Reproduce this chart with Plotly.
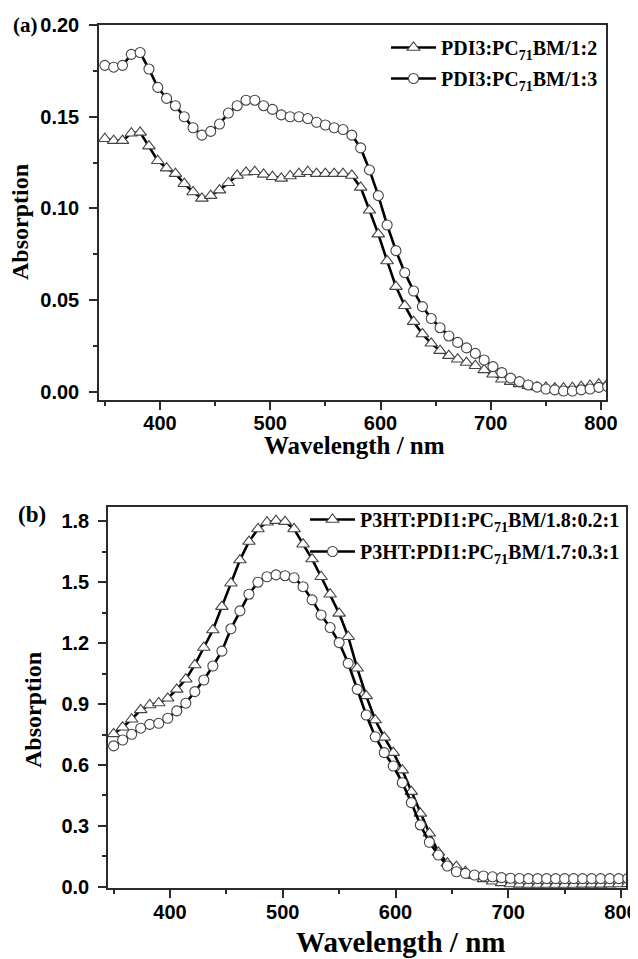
import plotly.graph_objects as go

# ---------------- data ----------------
wavelength = list(range(350, 807, 8))  # nm, 58 points

pdi3_12 = [0.138, 0.137, 0.137, 0.141, 0.1415, 0.134, 0.126, 0.122, 0.119, 0.1135,
           0.109, 0.1055, 0.107, 0.110, 0.114, 0.118, 0.1197, 0.120, 0.1186, 0.1173,
           0.1164, 0.1177, 0.119, 0.120, 0.119, 0.119, 0.119, 0.119, 0.118, 0.1115,
           0.099, 0.086, 0.0714, 0.0574, 0.047, 0.0383, 0.0316, 0.0265, 0.0225, 0.0198,
           0.0178, 0.016, 0.0143, 0.012, 0.0096, 0.0069, 0.0056, 0.0044, 0.0034, 0.0026,
           0.0024, 0.0020, 0.0020, 0.0023, 0.0029, 0.0034, 0.0042, 0.0044]

pdi3_13 = [0.178, 0.177, 0.178, 0.184, 0.185, 0.176, 0.166, 0.160, 0.156, 0.150,
           0.144, 0.140, 0.142, 0.146, 0.152, 0.156, 0.159, 0.159, 0.156, 0.154,
           0.151, 0.150, 0.150, 0.149, 0.147, 0.1455, 0.144, 0.143, 0.140, 0.133,
           0.121, 0.107, 0.091, 0.077, 0.065, 0.055, 0.0465, 0.040, 0.035, 0.0305,
           0.027, 0.024, 0.021, 0.0174, 0.0138, 0.0105, 0.0075, 0.0056, 0.0038, 0.0026,
           0.0016, 0.0011, 0.0005, 0.0005, 0.0011, 0.0016, 0.0025, 0.0029]

p3ht_18 = [0.753, 0.786, 0.825, 0.871, 0.895, 0.905, 0.928, 0.972, 1.022, 1.092,
           1.178, 1.264, 1.379, 1.494, 1.608, 1.699, 1.761, 1.794, 1.802, 1.797,
           1.761, 1.686, 1.613, 1.526, 1.440, 1.346, 1.231, 1.076, 0.940, 0.821,
           0.736, 0.661, 0.575, 0.469, 0.362, 0.264, 0.170, 0.117, 0.100, 0.075,
           0.055, 0.040, 0.028, 0.020, 0.015, 0.013, 0.012, 0.012, 0.012, 0.012,
           0.012, 0.012, 0.013, 0.013, 0.013, 0.014, 0.015, 0.016]

p3ht_17 = [0.694, 0.723, 0.751, 0.781, 0.800, 0.805, 0.830, 0.866, 0.904, 0.961,
           1.018, 1.087, 1.160, 1.270, 1.358, 1.440, 1.499, 1.526, 1.535, 1.531,
           1.521, 1.477, 1.412, 1.338, 1.276, 1.202, 1.100, 0.972, 0.846, 0.739,
           0.661, 0.595, 0.513, 0.415, 0.305, 0.220, 0.157, 0.103, 0.075, 0.067,
           0.059, 0.054, 0.050, 0.046, 0.043, 0.042, 0.041, 0.041, 0.041, 0.041,
           0.041, 0.041, 0.041, 0.041, 0.041, 0.041, 0.041, 0.042]

names_top = ["PDI3:PC<sub>71</sub>BM/1:2", "PDI3:PC<sub>71</sub>BM/1:3"]
names_bot = ["P3HT:PDI1:PC<sub>71</sub>BM/1.8:0.2:1", "P3HT:PDI1:PC<sub>71</sub>BM/1.7:0.3:1"]

# the page body has an 8px margin, so the figure is sized to end at the window edge
OFF = 8
W, H = 638 - OFF, 959 - OFF
SERIF = "Liberation Serif, Times New Roman, serif"
SANS = "Liberation Sans, Arial, sans-serif"
AX = "#2b2b2b"


def add_series(fig, y, name, symbol, xa, ya, legend, group):
    fig.add_trace(go.Scatter(
        x=wavelength, y=y, name=name, mode="lines+markers",
        line=dict(color="black", width=2.6),
        marker=dict(symbol=symbol, size=11 if symbol == "triangle-up" else 10,
                    color="white", line=dict(color="#444", width=1.1)),
        xaxis=xa, yaxis=ya, legend=legend, legendgroup=group))


fig = go.Figure()
add_series(fig, pdi3_12, names_top[0], "triangle-up", "x", "y", "legend", "a1")
add_series(fig, pdi3_13, names_top[1], "circle", "x", "y", "legend", "a2")
add_series(fig, p3ht_18, names_bot[0], "triangle-up", "x2", "y2", "legend2", "b1")
add_series(fig, p3ht_17, names_bot[1], "circle", "x2", "y2", "legend2", "b2")


def px(v):
    return (v - OFF) / W


def py(v):
    return 1 - (v - OFF) / H


common = dict(showline=True, linecolor=AX, linewidth=1.5, mirror=True,
              ticks="outside", ticklen=8, tickwidth=1.5, tickcolor=AX,
              showgrid=False, zeroline=False, automargin=False,
              tickfont=dict(family=SANS, size=20, color="black", weight="bold"))
minor_x = dict(ticks="outside", ticklen=4, dtick=50, tickcolor=AX, tickwidth=1.5)

fig.update_layout(
    width=W, height=H, margin=dict(l=0, r=0, t=0, b=0, autoexpand=False),
    paper_bgcolor="white", plot_bgcolor="white",
    xaxis=dict(domain=[px(99), px(606)], anchor="y", range=[344.7, 804.5],
               dtick=100, minor=minor_x, ticklabelstandoff=-4, **common),
    yaxis=dict(domain=[py(400), py(25)], anchor="x", range=[-0.0044, 0.20],
               dtick=0.05, tickformat=".2f", ticklabelstandoff=6,
               minor=dict(ticks="outside", ticklen=4, dtick=0.025, tickcolor=AX, tickwidth=1.5),
               **common),
    xaxis2=dict(domain=[px(108), px(626)], anchor="y2", range=[345, 804.4],
                dtick=100, minor=minor_x, ticklabelstandoff=-3, **common),
    yaxis2=dict(domain=[py(888), py(507)], anchor="x2", range=[-0.005, 1.869],
                dtick=0.3, tickformat=".1f", ticklabelstandoff=5,
                minor=dict(ticks="outside", ticklen=4, dtick=0.15, tickcolor=AX, tickwidth=1.5),
                **common),
    legend=dict(x=px(386), y=py(28), xanchor="left", yanchor="top",
                bgcolor="rgba(0,0,0,0)", itemwidth=45, tracegroupgap=2,
                font=dict(family=SERIF, size=20, color="black", weight="bold")),
    legend2=dict(x=px(305), y=py(500), xanchor="left", yanchor="top",
                 bgcolor="rgba(0,0,0,0)", itemwidth=45, tracegroupgap=3,
                 font=dict(family=SERIF, size=20, color="black", weight="bold")),
    showlegend=True,
)


def label(text, x, y, size, angle=0):
    fig.add_annotation(text=text, x=px(x), y=py(y), xref="paper", yref="paper",
                       xanchor="center", yanchor="middle", textangle=angle,
                       showarrow=False,
                       font=dict(family=SERIF, size=size, color="black", weight="bold"))


label("Absorption", 20, 222, 24, -90)
label("Absorption", 33, 710, 24, -90)
label("Wavelength / nm", 354, 445, 25)
label("Wavelength / nm", 400, 942, 29)
label("(a)", 25, 25, 21)
label("(b)", 32, 514, 23)

fig.write_html("out.html")
